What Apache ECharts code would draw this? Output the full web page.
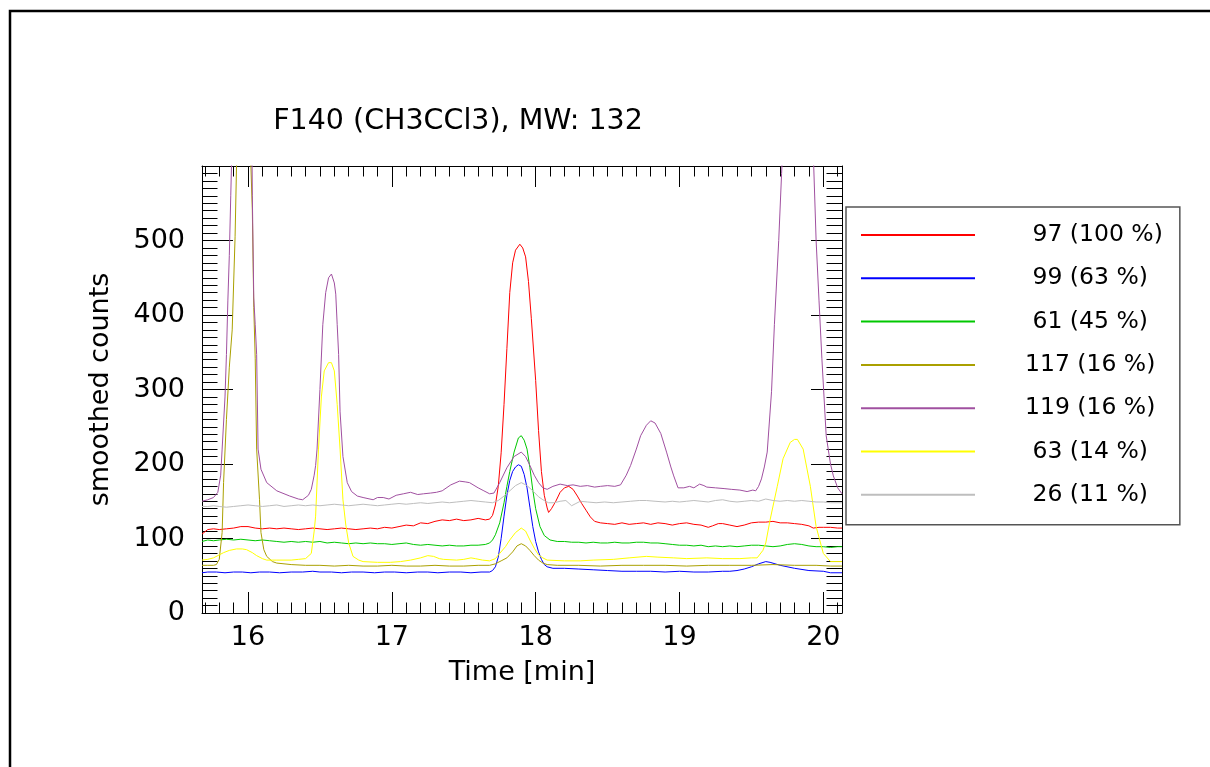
<!DOCTYPE html>
<html>
<head>
<meta charset="utf-8">
<script src="https://cdn.jsdelivr.net/npm/echarts@6/dist/echarts.min.js"></script>
<style>
html,body{margin:0;padding:0;background:#fff;}
#chart{width:1210px;height:767px;}
</style>
</head>
<body>
<div id="chart"></div>
<script>
// ---- data (time [min], smoothed counts) ----
const titleText = 'F140 (CH3CCl3), MW: 132';
const seriesNames = ['97 (100 %)', '99 (63 %)', '61 (45 %)', '117 (16 %)', '119 (16 %)', '63 (14 %)', '26 (11 %)'];
const seriesColors = ['#ff0000', '#0000ff', '#00c800', '#aaa000', '#a050a0', '#ffff00', '#bebebe'];
const xMajorTicks = [16, 17, 18, 19, 20];
const yTickStep = 100;

const m97 = [[15.68,106],[15.72,112],[15.76,113],[15.8,112],[15.85,113],[15.9,114],[15.95,116],[16.0,116],[16.05,114],[16.1,113],[16.15,114],[16.2,113],[16.25,114],[16.3,113],[16.35,112],[16.4,113],[16.45,114],[16.5,113],[16.55,112],[16.6,113],[16.65,114],[16.7,113],[16.75,112],[16.8,113],[16.85,114],[16.9,113],[16.95,115],[17.0,114],[17.05,116],[17.1,118],[17.15,117],[17.2,121],[17.25,120],[17.3,123],[17.35,125],[17.4,124],[17.45,126],[17.5,124],[17.55,125],[17.6,127],[17.65,125],[17.68,126],[17.7,131],[17.72,145],[17.74,170],[17.76,215],[17.78,280],[17.8,355],[17.82,430],[17.84,470],[17.86,487],[17.89,495],[17.91,490],[17.93,478],[17.95,445],[17.97,395],[18.0,312],[18.02,245],[18.04,190],[18.06,158],[18.08,141],[18.09,135],[18.11,140],[18.14,150],[18.17,162],[18.2,168],[18.23,170],[18.26,166],[18.29,157],[18.32,147],[18.35,138],[18.38,129],[18.41,123],[18.45,121],[18.5,120],[18.55,119],[18.6,121],[18.65,119],[18.7,120],[18.75,121],[18.8,119],[18.85,121],[18.9,120],[18.95,118],[19.0,120],[19.05,121],[19.1,119],[19.15,118],[19.2,115],[19.23,117],[19.27,120],[19.3,120],[19.35,118],[19.4,116],[19.45,118],[19.5,121],[19.55,122],[19.6,122],[19.65,123],[19.7,121],[19.75,121],[19.8,120],[19.85,119],[19.9,117],[19.93,114],[19.97,115],[20.0,115],[20.05,115],[20.1,114],[20.13,114]];

const m99 = [[15.68,54],[15.72,55],[15.78,55],[15.84,54],[15.9,55],[15.96,55],[16.02,54],[16.08,55],[16.15,55],[16.22,54],[16.3,55],[16.38,55],[16.45,56],[16.5,55],[16.58,55],[16.65,54],[16.72,55],[16.8,55],[16.88,54],[16.95,55],[17.02,55],[17.1,54],[17.18,55],[17.25,55],[17.32,54],[17.4,55],[17.48,55],[17.55,54],[17.62,55],[17.68,55],[17.7,57],[17.72,62],[17.74,75],[17.76,100],[17.78,130],[17.8,158],[17.82,178],[17.84,190],[17.86,196],[17.88,199],[17.9,197],[17.92,186],[17.94,168],[17.96,142],[17.98,116],[18.0,96],[18.02,82],[18.04,72],[18.06,65],[18.08,62],[18.12,60],[18.2,60],[18.3,59],[18.4,58],[18.5,57],[18.6,56],[18.7,56],[18.8,56],[18.9,55],[19.0,56],[19.1,55],[19.2,55],[19.3,56],[19.35,56],[19.4,57],[19.45,59],[19.5,62],[19.55,66],[19.6,69],[19.63,68],[19.7,64],[19.8,60],[19.9,57],[20.0,56],[20.05,54],[20.13,54]];

const m61 = [[15.68,96],[15.72,98],[15.76,97],[15.8,98],[15.85,99],[15.9,98],[15.95,99],[16.0,98],[16.05,97],[16.1,98],[16.15,97],[16.2,96],[16.25,95],[16.3,96],[16.35,95],[16.4,96],[16.45,95],[16.5,96],[16.55,94],[16.6,95],[16.65,94],[16.7,93],[16.75,94],[16.8,93],[16.85,94],[16.9,93],[16.95,93],[17.0,92],[17.05,93],[17.1,94],[17.15,92],[17.2,91],[17.25,92],[17.3,91],[17.35,90],[17.4,91],[17.45,90],[17.5,90],[17.55,91],[17.6,91],[17.65,92],[17.68,94],[17.7,98],[17.72,105],[17.75,121],[17.78,148],[17.8,170],[17.82,190],[17.85,216],[17.88,235],[17.9,238],[17.92,232],[17.94,220],[17.96,195],[17.98,165],[18.0,140],[18.03,116],[18.06,104],[18.1,98],[18.15,96],[18.2,96],[18.25,95],[18.3,95],[18.35,94],[18.4,95],[18.45,94],[18.5,94],[18.55,95],[18.6,94],[18.65,94],[18.7,95],[18.75,95],[18.8,94],[18.85,94],[18.9,93],[18.95,92],[19.0,91],[19.05,91],[19.1,90],[19.15,91],[19.2,89],[19.25,90],[19.3,89],[19.35,90],[19.4,89],[19.45,90],[19.5,91],[19.55,91],[19.6,90],[19.65,89],[19.7,90],[19.75,92],[19.8,93],[19.85,92],[19.9,90],[19.95,89],[20.0,89],[20.05,88],[20.1,89],[20.13,89]];

const m117 = [[15.68,64],[15.72,64],[15.76,64],[15.78,65],[15.8,72],[15.82,108],[15.83,175],[15.85,260],[15.87,330],[15.89,380],[15.91,505],[15.92,600],[15.94,760],[15.97,820],[16.0,720],[16.02,600],[16.03,540],[16.04,410],[16.05,342],[16.06,220],[16.08,152],[16.09,108],[16.11,85],[16.13,76],[16.17,69],[16.2,67],[16.3,65],[16.4,64],[16.5,64],[16.6,63],[16.7,64],[16.8,63],[16.9,63],[17.0,64],[17.1,63],[17.2,63],[17.3,64],[17.4,63],[17.5,63],[17.6,64],[17.68,64],[17.72,66],[17.76,70],[17.8,74],[17.84,82],[17.87,90],[17.9,93],[17.93,90],[17.96,84],[17.99,77],[18.02,71],[18.05,67],[18.08,65],[18.15,64],[18.3,64],[18.45,63],[18.6,64],[18.75,64],[18.9,64],[19.05,63],[19.2,64],[19.35,64],[19.5,64],[19.65,65],[19.8,64],[19.95,64],[20.05,63],[20.13,63]];

const m119 = [[15.68,150],[15.72,152],[15.76,155],[15.79,162],[15.81,185],[15.82,220],[15.84,290],[15.85,347],[15.86,420],[15.87,480],[15.88,560],[15.89,640],[15.93,900],[15.98,950],[16.02,800],[16.03,560],[16.04,423],[16.05,387],[16.06,347],[16.07,220],[16.09,193],[16.13,175],[16.2,164],[16.29,157],[16.35,153],[16.38,152],[16.42,158],[16.44,166],[16.46,185],[16.47,198],[16.48,220],[16.5,300],[16.52,387],[16.54,430],[16.56,450],[16.58,455],[16.6,443],[16.61,428],[16.62,387],[16.63,347],[16.64,270],[16.66,210],[16.69,175],[16.72,163],[16.76,157],[16.8,155],[16.87,152],[16.9,155],[16.94,155],[16.98,153],[17.03,158],[17.08,160],[17.13,162],[17.18,159],[17.22,160],[17.27,161],[17.31,162],[17.35,164],[17.41,172],[17.47,177],[17.51,176],[17.54,175],[17.6,168],[17.64,164],[17.68,160],[17.71,161],[17.75,175],[17.8,195],[17.85,210],[17.9,216],[17.93,210],[17.96,198],[17.99,185],[18.02,175],[18.05,168],[18.08,166],[18.12,170],[18.17,173],[18.22,171],[18.26,172],[18.31,170],[18.36,171],[18.41,169],[18.45,170],[18.5,171],[18.55,170],[18.59,172],[18.63,185],[18.66,198],[18.7,220],[18.73,238],[18.77,252],[18.8,258],[18.83,255],[18.87,241],[18.91,216],[18.94,196],[18.96,184],[18.99,168],[19.03,168],[19.07,170],[19.1,168],[19.14,173],[19.17,171],[19.19,169],[19.25,168],[19.31,167],[19.36,166],[19.42,165],[19.47,163],[19.51,165],[19.53,164],[19.55,170],[19.57,180],[19.59,196],[19.61,216],[19.64,297],[19.66,387],[19.69,500],[19.71,590],[19.73,680],[19.8,900],[19.88,900],[19.93,620],[19.95,500],[19.97,420],[19.99,342],[20.02,238],[20.05,200],[20.07,184],[20.1,168],[20.13,160]];

const m63 = [[15.68,71],[15.72,72],[15.76,74],[15.8,78],[15.83,81],[15.87,84],[15.92,86],[15.96,86],[15.99,85],[16.03,81],[16.06,77],[16.1,73],[16.13,71],[16.2,71],[16.25,71],[16.3,71],[16.35,72],[16.4,73],[16.44,80],[16.46,110],[16.47,130],[16.49,220],[16.51,290],[16.53,325],[16.56,336],[16.58,336],[16.6,325],[16.62,280],[16.64,220],[16.66,152],[16.68,118],[16.7,94],[16.73,76],[16.77,71],[16.8,69],[16.9,68],[16.99,68],[17.06,69],[17.13,71],[17.2,74],[17.25,77],[17.29,76],[17.33,73],[17.36,72],[17.45,71],[17.5,72],[17.55,74],[17.58,73],[17.63,71],[17.68,70],[17.72,73],[17.75,80],[17.79,89],[17.82,98],[17.86,108],[17.9,114],[17.93,110],[17.96,98],[17.99,87],[18.02,78],[18.05,74],[18.08,71],[18.2,70],[18.31,70],[18.4,71],[18.54,72],[18.65,74],[18.77,76],[18.85,75],[18.96,74],[19.05,73],[19.19,74],[19.3,73],[19.42,73],[19.5,74],[19.54,74],[19.58,84],[19.6,94],[19.63,125],[19.68,170],[19.72,207],[19.77,229],[19.8,233],[19.82,233],[19.86,220],[19.91,170],[19.95,116],[20.0,80],[20.05,69],[20.13,69]];

const m26 = [[15.68,143],[15.72,143],[15.76,144],[15.8,143],[15.85,142],[15.9,143],[15.95,144],[16.0,145],[16.05,144],[16.1,143],[16.15,144],[16.2,145],[16.25,143],[16.3,144],[16.35,145],[16.4,144],[16.45,145],[16.5,144],[16.55,145],[16.6,146],[16.65,145],[16.7,144],[16.75,145],[16.8,146],[16.85,145],[16.9,144],[16.95,145],[17.0,146],[17.05,147],[17.1,146],[17.15,147],[17.2,148],[17.25,147],[17.3,148],[17.35,149],[17.4,148],[17.45,149],[17.5,150],[17.55,151],[17.6,150],[17.65,149],[17.7,148],[17.74,151],[17.78,157],[17.82,164],[17.86,171],[17.9,175],[17.94,171],[17.98,164],[18.02,156],[18.05,152],[18.09,148],[18.13,148],[18.17,150],[18.21,151],[18.25,144],[18.28,147],[18.31,150],[18.36,149],[18.42,148],[18.48,149],[18.54,148],[18.6,149],[18.66,150],[18.72,151],[18.77,151],[18.83,150],[18.9,149],[18.95,150],[19.0,149],[19.05,150],[19.1,151],[19.15,150],[19.2,149],[19.25,151],[19.3,152],[19.35,150],[19.4,149],[19.45,150],[19.5,151],[19.55,150],[19.6,153],[19.65,151],[19.7,150],[19.75,151],[19.8,150],[19.85,151],[19.9,150],[19.95,149],[20.0,149],[20.05,148],[20.13,148]];

const seriesData = [m97, m99, m61, m117, m119, m63, m26];

// axis ranges
const xMin = 15.68, xMax = 20.13;
const yMin = 0, yMax = 600;

// minor x tick values every 0.1 min (not on majors)
const xMinorTicks = [];
for (let i = Math.ceil(xMin * 10); i <= Math.floor(xMax * 10); i++) {
  if (i % 10 !== 0) xMinorTicks.push(i / 10);
}

const FONT = 'DejaVu Sans';
const INK = '#000';

function xAxisDef(pos, major, showLabel) {
  return {
    type: 'value', position: pos, min: xMin, max: xMax,
    splitLine: {show: false},
    axisLine: {show: major, onZero: false, lineStyle: {color: INK, width: 1}},
    axisTick: {show: true, inside: true, length: major ? 21 : 10.5,
      customValues: major ? xMajorTicks : xMinorTicks,
      lineStyle: {color: INK, width: 1}},
    axisLabel: showLabel ? {show: true, customValues: xMajorTicks, margin: 11,
      fontFamily: FONT, fontSize: 27, color: INK} : {show: false},
    name: showLabel ? 'Time [min]' : '',
    nameLocation: 'middle', nameGap: 46,
    nameTextStyle: {fontFamily: FONT, fontSize: 27, color: INK}
  };
}
function yAxisDef(pos, showLabel) {
  return {
    type: 'value', position: pos, min: yMin, max: yMax, interval: yTickStep,
    splitLine: {show: false},
    axisLine: {show: true, onZero: false, lineStyle: {color: INK, width: 1}},
    axisTick: {show: true, inside: true, length: 31, lineStyle: {color: INK, width: 1}},
    minorTick: {show: true, splitNumber: 10, length: 15.5, lineStyle: {color: INK, width: 1}},
    axisLabel: showLabel ? {show: true, showMaxLabel: false, margin: 17,
      fontFamily: FONT, fontSize: 27, color: INK} : {show: false},
    name: showLabel ? 'smoothed counts' : '',
    nameLocation: 'middle', nameGap: 88,
    nameTextStyle: {fontFamily: FONT, fontSize: 27, color: INK}
  };
}

const chart = echarts.init(document.getElementById('chart'), null, {renderer: 'canvas'});
chart.setOption({
  animation: false,
  backgroundColor: '#fff',
  title: {
    text: titleText, left: 453, top: 102, textAlign: 'center',
    textStyle: {fontFamily: FONT, fontSize: 28.5, fontWeight: 'normal', color: INK}
  },
  grid: {left: 202, top: 166, right: 368, bottom: 154, containLabel: false},
  xAxis: [
    xAxisDef('bottom', true, true),
    xAxisDef('bottom', false, false),
    xAxisDef('top', true, false),
    xAxisDef('top', false, false)
  ],
  yAxis: [
    yAxisDef('left', true),
    yAxisDef('right', false)
  ],
  legend: {
    orient: 'vertical', left: 846, top: 207,
    padding: [15, 17, 17, 15],
    itemWidth: 114, itemHeight: 2, itemGap: 17.3,
    icon: 'rect',
    borderColor: '#555', borderWidth: 1.5,
    backgroundColor: '#fff',
    data: seriesNames,
    formatter: function (n) { return (n.indexOf(' ') === 2 ? ' ' : '') + n; },
    textStyle: {fontFamily: FONT, fontSize: 23.5, color: INK, lineHeight: 26, padding: [0, 0, 0, 45]}
  },
  graphic: [{
    type: 'rect', silent: true, z: 100,
    shape: {x: 10, y: 11, width: 1400, height: 900},
    style: {fill: 'none', stroke: '#000', lineWidth: 2.5}
  }],
  series: seriesNames.map(function (name, i) {
    return {
      name: name, type: 'line', xAxisIndex: 0, yAxisIndex: 0,
      data: seriesData[i], showSymbol: false, symbol: 'none', clip: true,
      color: seriesColors[i],
      lineStyle: {color: seriesColors[i], width: 1},
      emphasis: {disabled: true}
    };
  })
});
</script>
</body>
</html>
